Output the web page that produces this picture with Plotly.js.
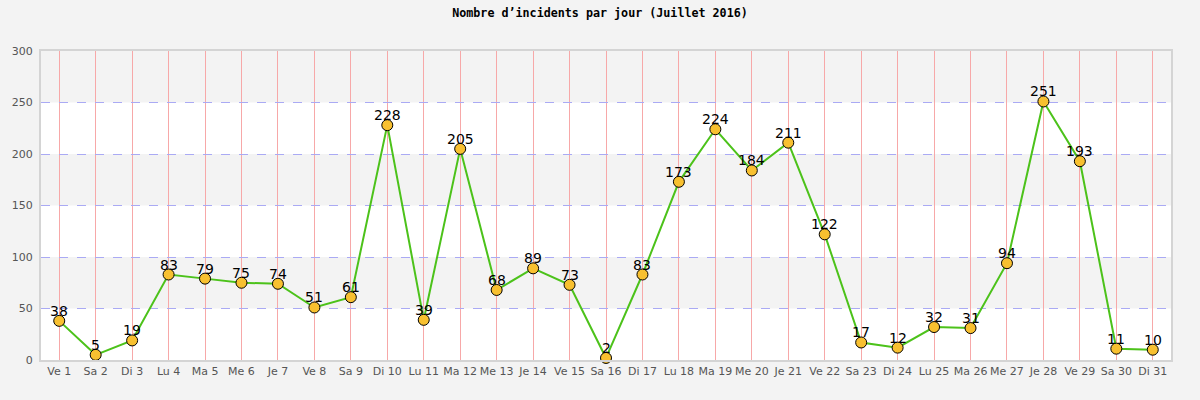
<!DOCTYPE html>
<html>
<head>
<meta charset="utf-8">
<script src="https://cdn.plot.ly/plotly-3.0.1.min.js"></script>
<style>
  html, body { margin: 0; padding: 0; background: #f3f3f3; }
  #chart { width: 1200px; height: 400px; }
</style>
</head>
<body>
<div id="chart"></div>
<script>
// Incidents per day, July 2016
const dayLabels = [
    'Ve 1', 'Sa 2', 'Di 3', 'Lu 4', 'Ma 5', 'Me 6', 'Je 7', 'Ve 8', 'Sa 9', 'Di 10',
    'Lu 11', 'Ma 12', 'Me 13', 'Je 14', 'Ve 15', 'Sa 16', 'Di 17', 'Lu 18', 'Ma 19', 'Me 20',
    'Je 21', 'Ve 22', 'Sa 23', 'Di 24', 'Lu 25', 'Ma 26', 'Me 27', 'Je 28', 'Ve 29', 'Sa 30', 'Di 31'
];
const incidents = [
    38, 5, 19, 83, 79, 75, 74, 51, 61, 228,
    39, 205, 68, 89, 73, 2, 83, 173, 224, 184,
    211, 122, 17, 12, 32, 31, 94, 251, 193, 11, 10
];
const yTicks = [0, 50, 100, 150, 200, 250, 300];
// alternating grey bands between gridlines
const greyBands = [[50, 100], [150, 200], [250, 300]];

const trace = {
    x: dayLabels,
    y: incidents,
    type: 'scatter',
    mode: 'lines+markers',
    line: { color: '#4cc21a', width: 2 },
    marker: {
        color: '#f8c030',
        size: 11,
        line: { color: '#000000', width: 1 }
    },
    cliponaxis: false,
    hoverinfo: 'x+y'
};

// value labels sit right on top of the markers
const valueLabels = dayLabels.map((d, i) => ({
    x: d,
    y: incidents[i],
    xref: 'x',
    yref: 'y',
    text: String(incidents[i]),
    showarrow: false,
    yanchor: 'bottom',
    yshift: 1,
    borderpad: 0,
    font: { family: 'DejaVu Sans', size: 14, color: '#000000' }
}));

const shapes = greyBands.map(b => ({
    type: 'rect',
    xref: 'paper',
    yref: 'y',
    x0: 0, x1: 1,
    y0: b[0], y1: b[1],
    fillcolor: '#f3f3f3',
    line: { width: 0 },
    layer: 'below'
}));

const layout = {
    width: 1200,
    height: 400,
    paper_bgcolor: '#f3f3f3',
    plot_bgcolor: '#ffffff',
    margin: { l: 41, r: 29, t: 51, b: 40 },
    title: {
        text: 'Nombre d’incidents par jour (Juillet 2016)',
        font: { family: 'DejaVu Sans Mono', size: 11.7, color: '#000000', weight: 'bold' },
        x: 0.5,
        y: 0.967,
        yanchor: 'middle'
    },
    xaxis: {
        type: 'category',
        range: [-0.5, dayLabels.length - 0.5],
        showgrid: true,
        gridcolor: '#f7a8a8',
        gridwidth: 1,
        showline: true,
        linecolor: '#d4d4d4',
        linewidth: 2,
        mirror: true,
        ticks: '',
        tickfont: { family: 'DejaVu Sans', size: 11, color: '#555555' },
        zeroline: false,
        fixedrange: true
    },
    yaxis: {
        range: [0, 300],
        tickvals: yTicks,
        showgrid: true,
        gridcolor: '#aaaaf4',
        griddash: 'dash',
        gridwidth: 1,
        showline: true,
        linecolor: '#d4d4d4',
        linewidth: 2,
        mirror: true,
        ticks: '',
        ticklabelstandoff: 4,
        tickfont: { family: 'DejaVu Sans', size: 11, color: '#555555' },
        zeroline: false,
        fixedrange: true
    },
    annotations: valueLabels,
    shapes: shapes,
    showlegend: false
};

Plotly.newPlot('chart', [trace], layout, { displayModeBar: false, staticPlot: true });
</script>
</body>
</html>
